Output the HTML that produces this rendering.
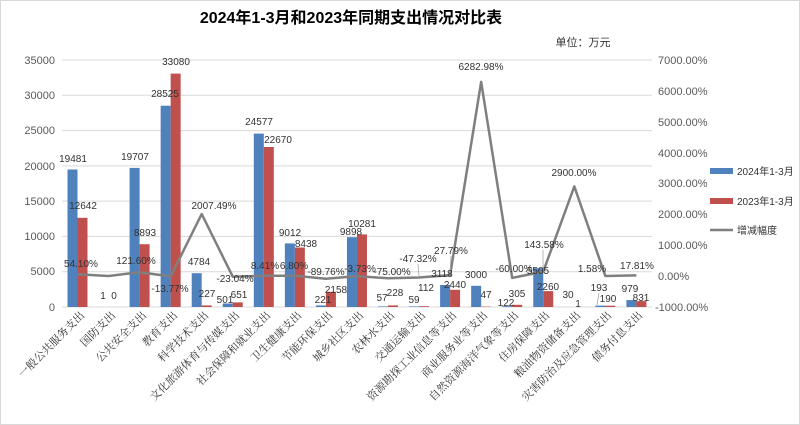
<!DOCTYPE html>
<html><head><meta charset="utf-8"><style>
body{margin:0;background:#fff}
svg{display:block}
.t{font-family:"Liberation Sans","Noto Sans CJK SC",sans-serif;font-size:10px;fill:#333;text-anchor:middle}
.ax{font-family:"Liberation Sans",sans-serif;font-size:11px;fill:#595959}
.xl{font-family:"Liberation Serif","Noto Serif CJK SC",serif;font-size:11px;fill:#333;text-anchor:end}
</style></head><body>
<svg width="800" height="425" viewBox="0 0 800 425">
<rect x="0.5" y="0.5" width="799" height="424" fill="#fff" stroke="#d9d9d9"/>
<text x="351" y="23" text-anchor="middle" style="font-family:'Liberation Sans','Noto Sans CJK SC',sans-serif;font-size:16px;font-weight:bold;fill:#000">2024年1-3月和2023年同期支出情况对比表</text>
<text x="583" y="46" text-anchor="middle" style="font-family:'Liberation Sans','Noto Sans CJK SC',sans-serif;font-size:11px;fill:#333">单位：万元</text>
<g stroke="#d9d9d9" stroke-width="1">
<line x1="62" x2="652" y1="60" y2="60"/><line x1="62" x2="652" y1="95.3" y2="95.3"/><line x1="62" x2="652" y1="130.6" y2="130.6"/><line x1="62" x2="652" y1="165.9" y2="165.9"/><line x1="62" x2="652" y1="201.1" y2="201.1"/><line x1="62" x2="652" y1="236.4" y2="236.4"/><line x1="62" x2="652" y1="271.7" y2="271.7"/><line x1="62" x2="652" y1="307" y2="307"/>
</g>
<g class="ax" text-anchor="end">
<text x="55" y="64">35000</text><text x="55" y="99">30000</text><text x="55" y="134">25000</text><text x="55" y="170">20000</text><text x="55" y="205">15000</text><text x="55" y="240">10000</text><text x="55" y="275">5000</text><text x="55" y="311">0</text>
</g>
<g class="ax">
<text x="658" y="64">7000.00%</text><text x="658" y="95">6000.00%</text><text x="658" y="126">5000.00%</text><text x="658" y="157">4000.00%</text><text x="658" y="187">3000.00%</text><text x="658" y="218">2000.00%</text><text x="658" y="249">1000.00%</text><text x="658" y="280">0.00%</text><text x="655" y="311">-1000.00%</text>
</g>
<g fill="#4f81bd">
<rect x="67.5" y="169.5" width="10" height="137.5"/>
<rect x="129.6" y="167.9" width="10" height="139.1"/>
<rect x="160.65" y="105.7" width="10" height="201.3"/>
<rect x="191.7" y="273.2" width="10" height="33.8"/>
<rect x="222.75" y="303.5" width="10" height="3.5"/>
<rect x="253.8" y="133.6" width="10" height="173.4"/>
<rect x="284.85" y="243.4" width="10" height="63.6"/>
<rect x="315.9" y="305.4" width="10" height="1.6"/>
<rect x="346.95" y="237.2" width="10" height="69.8"/>
<rect x="378" y="306.4" width="10" height="0.6"/>
<rect x="409.05" y="306.4" width="10" height="0.6"/>
<rect x="440.1" y="285" width="10" height="22"/>
<rect x="471.15" y="285.8" width="10" height="21.2"/>
<rect x="502.2" y="306.1" width="10" height="0.9"/>
<rect x="533.25" y="268.2" width="10" height="38.8"/>
<rect x="595.35" y="305.6" width="10" height="1.4"/>
<rect x="626.4" y="300.1" width="10" height="6.9"/>
</g>
<g fill="#c0504d">
<rect x="77.5" y="217.8" width="10" height="89.2"/>
<rect x="139.6" y="244.2" width="10" height="62.8"/>
<rect x="170.65" y="73.6" width="10" height="233.4"/>
<rect x="201.7" y="305.4" width="10" height="1.6"/>
<rect x="232.75" y="302.4" width="10" height="4.6"/>
<rect x="263.8" y="147" width="10" height="160"/>
<rect x="294.85" y="247.5" width="10" height="59.5"/>
<rect x="325.9" y="291.8" width="10" height="15.2"/>
<rect x="356.95" y="234.4" width="10" height="72.6"/>
<rect x="388" y="305.4" width="10" height="1.6"/>
<rect x="419.05" y="306.2" width="10" height="0.8"/>
<rect x="450.1" y="289.8" width="10" height="17.2"/>
<rect x="481.15" y="306.6" width="10" height="0.4"/>
<rect x="512.2" y="304.8" width="10" height="2.2"/>
<rect x="543.25" y="291.1" width="10" height="15.9"/>
<rect x="605.35" y="305.7" width="10" height="1.3"/>
<rect x="636.4" y="301.1" width="10" height="5.9"/>
</g>
<polyline fill="none" stroke="#7f7f7f" stroke-width="2.5" stroke-linejoin="round" points="77.5,274.3 108.55,276 139.6,272.2 170.65,276.4 201.7,214 232.75,276.7 263.8,275.7 294.85,275.8 325.9,278.8 356.95,276.1 388,278.3 419.05,277.5 450.1,275.1 481.15,81.9 512.2,277.9 543.25,271.6 574.3,186.4 605.35,275.95 636.4,275.4"/>
<g stroke="#a6a6a6" stroke-width="0.8"><line x1="418" y1="264" x2="419" y2="276"/><line x1="451" y1="256" x2="450" y2="273"/><line x1="543" y1="250" x2="543" y2="270"/><line x1="599" y1="293" x2="597" y2="305"/></g>
<g class="t">
<text x="73" y="162">19481</text><text x="83" y="209">12642</text><text x="81" y="267">54.10%</text>
<text x="103" y="299">1</text><text x="114" y="299">0</text>
<text x="135" y="160">19707</text><text x="145" y="236">8893</text><text x="136" y="264">121.60%</text>
<text x="165" y="97">28525</text><text x="176" y="65">33080</text><text x="170" y="292">-13.77%</text>
<text x="214" y="209">2007.49%</text><text x="199" y="265">4784</text><text x="207" y="297">227</text>
<text x="225" y="303">501</text><text x="239" y="298">651</text><text x="235" y="282">-23.04%</text>
<text x="259" y="125">24577</text><text x="278" y="143">22670</text><text x="265" y="269">8.41%</text>
<text x="290" y="236">9012</text><text x="306" y="247">8438</text><text x="294" y="269">6.80%</text>
<text x="326" y="275">-89.76%</text><text x="323" y="303">221</text><text x="336" y="293">2158</text>
<text x="362" y="227">10281</text><text x="351" y="235">9898</text><text x="360" y="272">-3.73%</text>
<text x="392" y="275">-75.00%</text><text x="382" y="301">57</text><text x="395" y="296">228</text>
<text x="414" y="303">59</text><text x="418" y="262">-47.32%</text><text x="426" y="291">112</text>
<text x="451" y="254">27.79%</text><text x="442" y="277">3118</text><text x="455" y="288">2440</text>
<text x="481" y="70">6282.98%</text><text x="476" y="278">3000</text><text x="486" y="298">47</text>
<text x="514" y="272">-60.00%</text><text x="506" y="306">122</text><text x="517" y="297">305</text>
<text x="544" y="248">143.58%</text><text x="538" y="274">5505</text><text x="548" y="290">2260</text>
<text x="574" y="176">2900.00%</text><text x="568" y="298">30</text><text x="578" y="307">1</text>
<text x="592" y="272">1.58%</text><text x="599" y="291">193</text><text x="608" y="302">190</text>
<text x="637" y="269">17.81%</text><text x="630" y="292">979</text><text x="641" y="301">831</text>
</g>
<g class="xl">
<text transform="translate(85,316) rotate(-45)">一般公共服务支出</text>
<text transform="translate(116,316) rotate(-45)">国防支出</text>
<text transform="translate(147,316) rotate(-45)">公共安全支出</text>
<text transform="translate(178,316) rotate(-45)">教育支出</text>
<text transform="translate(209,316) rotate(-45)">科学技术支出</text>
<text transform="translate(240,316) rotate(-45)">文化旅游体育与传媒支出</text>
<text transform="translate(271,316) rotate(-45)">社会保障和就业支出</text>
<text transform="translate(302,316) rotate(-45)">卫生健康支出</text>
<text transform="translate(333,316) rotate(-45)">节能环保支出</text>
<text transform="translate(364,316) rotate(-45)">城乡社区支出</text>
<text transform="translate(395,316) rotate(-45)">农林水支出</text>
<text transform="translate(426,316) rotate(-45)">交通运输支出</text>
<text transform="translate(457,316) rotate(-45)">资源勘探工业信息等支出</text>
<text transform="translate(488,316) rotate(-45)">商业服务业等支出</text>
<text transform="translate(519,316) rotate(-45)">自然资源海洋气象等支出</text>
<text transform="translate(550,316) rotate(-45)">住房保障支出</text>
<text transform="translate(581,316) rotate(-45)">粮油物资储备支出</text>
<text transform="translate(612,316) rotate(-45)">灾害防治及应急管理支出</text>
<text transform="translate(643,316) rotate(-45)">债务付息支出</text>
</g>
<rect x="710" y="168" width="23" height="6" fill="#4f81bd"/>
<rect x="710" y="198" width="23" height="6" fill="#c0504d"/>
<line x1="710" x2="733" y1="230" y2="230" stroke="#7f7f7f" stroke-width="2.5"/>
<g style="font-family:'Liberation Sans','Noto Sans CJK SC',sans-serif;font-size:10px;fill:#333">
<text x="737" y="175">2024年1-3月</text><text x="737" y="205">2023年1-3月</text><text x="737" y="234">增减幅度</text>
</g>
</svg>
</body></html>
